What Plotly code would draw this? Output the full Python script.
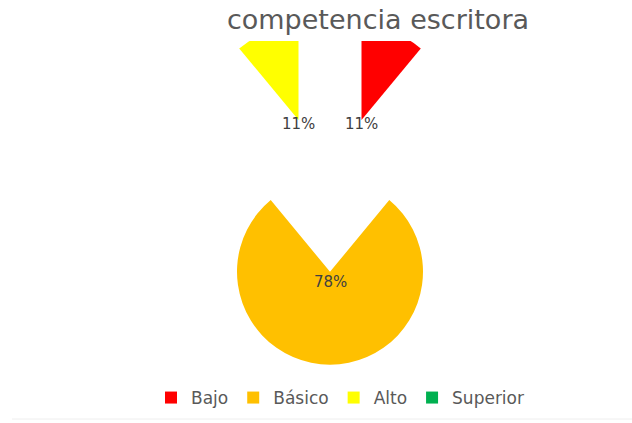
import math
import plotly.graph_objects as go

# ---- data ----
categories = ["Bajo", "Básico", "Alto", "Superior"]
values = [11, 78, 11, 0]
colors = ["#FF0000", "#FFC000", "#FFFF00", "#00B050"]
pulls = [1.0, 0.69, 1.0, 0.0]
title_text = "competencia escritora"

# ---- layout constants ----
W, H = 632, 423
R = 93.0                      # desired pie radius in px
CX, CY = 330.0, 207.6         # desired pie centre in px
CLIP_TOP = 41                 # plot-area top edge (slices are clipped here)
max_pull = max(pulls)
box = R * (2 + 2 * max_pull)  # plotly: r = min(box)/(2+2*maxPull)

dom_x = [(CX - box / 2) / W, (CX + box / 2) / W]
dom_y = [1 - (CY + box / 2) / H, 1 - (CY - box / 2) / H]

fig = go.Figure(go.Pie(
    labels=categories,
    values=values,
    marker=dict(colors=colors, line=dict(width=0)),
    pull=pulls,
    sort=False,
    direction="clockwise",
    rotation=0,
    textinfo="none",
    hoverinfo="label+percent",
    domain=dict(x=dom_x, y=dom_y),
    showlegend=True,
))

# percentage labels placed at the vertex of each pulled slice
total = sum(values)
start = 0.0
annotations = []
for cat, v, p in zip(categories, values, pulls):
    frac = v / total
    if v > 0:
        mid = (start + frac / 2) * 2 * math.pi  # clockwise from 12 o'clock
        vx = CX + p * R * math.sin(mid)
        vy = CY - p * R * math.cos(mid)
        shift = 10 if frac > 0.5 else 4
        annotations.append(dict(
            x=vx / W, y=1 - (vy + shift) / H, xref="paper", yref="paper",
            text=f"{round(frac * 100)}%", showarrow=False,
            font=dict(family="DejaVu Sans", size=15, color="#404040"),
            xanchor="center", yanchor="middle",
        ))
    start += frac

fig.update_layout(
    width=W, height=H,
    margin=dict(l=0, r=0, t=0, b=0),
    paper_bgcolor="white",
    plot_bgcolor="white",
    title=dict(text=title_text, x=378 / W, xanchor="center", y=1 - 20 / H,
               yanchor="middle",
               font=dict(family="DejaVu Sans", size=27, color="#595959")),
    legend=dict(orientation="h", x=340 / W, xanchor="center",
                y=1 - 398 / H, yanchor="middle",
                font=dict(family="DejaVu Sans", size=17, color="#595959"),
                itemclick=False),
    annotations=annotations,
    shapes=[
        # plot-area clipping at the top
        dict(type="rect", xref="paper", yref="paper", layer="above",
             x0=0, x1=1, y0=1 - CLIP_TOP / H, y1=1,
             fillcolor="white", line=dict(width=0)),
        dict(type="line", xref="paper", yref="paper",
             x0=12 / W, x1=1, y0=1 - 419 / H, y1=1 - 419 / H,
             line=dict(color="#eeeeee", width=1)),
    ],
)

fig.write_html("out.html")
